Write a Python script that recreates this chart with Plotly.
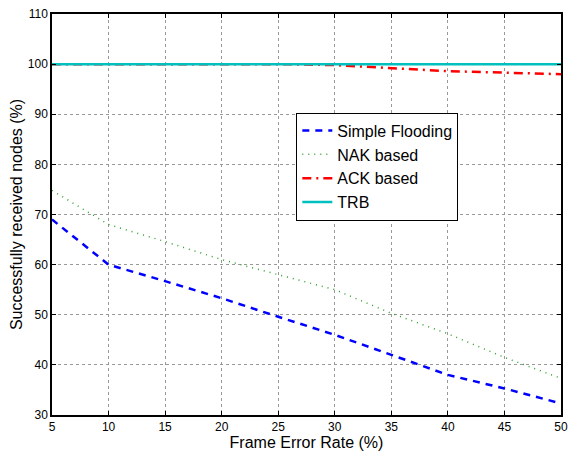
import plotly.graph_objects as go

fer = [5, 10, 15, 20, 25, 30, 35, 40, 45, 50]
simple_flooding = [69, 60, 56.7, 53.3, 49.6, 46, 42, 38, 35.3, 32.3]
nak_based = [74.8, 68, 64.6, 61, 58, 55, 50.3, 46.2, 41.5, 37.3]
ack_based = [100, 100, 100, 100, 100, 99.8, 99.2, 98.6, 98.3, 98.0]
trb = [100, 100, 100, 100, 100, 100, 100, 100, 100, 100]

x_ticks = [5, 10, 15, 20, 25, 30, 35, 40, 45, 50]
y_ticks = [30, 40, 50, 60, 70, 80, 90, 100, 110]

font = "Liberation Sans, Arial, sans-serif"

fig = go.Figure()
fig.add_trace(go.Scatter(x=fer, y=simple_flooding, mode="lines", name="Simple Flooding",
                         line=dict(color="#0000ff", width=2.5, dash="7px,6px")))
fig.add_trace(go.Scatter(x=fer, y=nak_based, mode="lines", name="NAK based",
                         line=dict(color="#2ca02c", width=1.5, dash="1px,5px")))
fig.add_trace(go.Scatter(x=fer, y=ack_based, mode="lines", name="ACK based",
                         line=dict(color="#ff0000", width=2.5, dash="9px,5px,2px,5px")))
fig.add_trace(go.Scatter(x=fer, y=trb, mode="lines", name="TRB",
                         line=dict(color="#00bfbf", width=2.5)))

axis_common = dict(
    showline=True, linecolor="black", linewidth=1.5, mirror="ticks",
    ticks="inside", ticklen=4, tickcolor="black",
    showgrid=True, gridcolor="#999999", griddash="dot", gridwidth=1,
    zeroline=False, tickfont=dict(family=font, size=12, color="black"),
)

fig.update_xaxes(range=[5, 50], tickvals=x_ticks,
                 title=dict(text="Frame Error Rate (%)", font=dict(family=font, size=16, color="black"), standoff=3),
                 **axis_common)
fig.update_yaxes(range=[30, 110], tickvals=y_ticks,
                 title=dict(text="Successfully received nodes (%)", font=dict(family=font, size=16, color="black"), standoff=1),
                 **axis_common)

fig.update_layout(
    width=575, height=455,
    margin=dict(l=52, r=7, t=11, b=37),
    plot_bgcolor="white", paper_bgcolor="white",
    font=dict(family=font, size=16, color="black"),
    legend=dict(x=0.48, y=0.754, xanchor="left", yanchor="top",
                bordercolor="black", borderwidth=1, bgcolor="white",
                font=dict(family=font, size=16), tracegroupgap=0),
    showlegend=True,
)

fig.write_html("out.html")
